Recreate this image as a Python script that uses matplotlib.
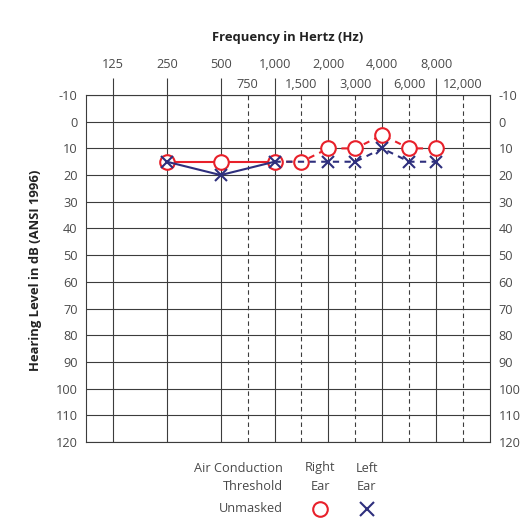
import matplotlib
matplotlib.use("Agg")
import matplotlib.pyplot as plt
from matplotlib.lines import Line2D

plt.rcParams['font.family'] = ['Open Sans', 'DejaVu Sans']

# Audiogram frequencies (Hz) and their evenly spaced chart positions
octave_freqs = ["125", "250", "500", "1,000", "2,000", "4,000", "8,000"]
octave_pos = [0, 1, 2, 3, 4, 5, 6]
mid_freqs = ["750", "1,500", "3,000", "6,000", "12,000"]
mid_pos = [2.5, 3.5, 4.5, 5.5, 6.5]
db_ticks = list(range(-10, 130, 10))

# Right ear (air conduction, unmasked): position index -> hearing level (dB)
right_pos = [1, 2, 3, 3.5, 4, 4.5, 5, 5.5, 6]
right_db = [15, 15, 15, 15, 10, 10, 5, 10, 10]
# Left ear
left_pos = [1, 2, 3, 4, 4.5, 5, 5.5, 6]
left_db = [15, 20, 15, 15, 15, 10, 15, 15]

RED = "#e8202a"
BLUE = "#2e2f7d"
GRID = "#3c3c3c"
TXT = "#4a4a4a"
FS = 9.2

fig = plt.figure(figsize=(5.26, 5.23), dpi=100)
ax = fig.add_axes([86 / 526, 1 - 442 / 523, 404 / 526, 347 / 523])

ax.set_xlim(-0.5, 7)
ax.set_ylim(120, -10)

# Grid: octaves solid, mid-octaves dashed, every 10 dB solid
for x in octave_pos:
    ax.axvline(x, color=GRID, lw=0.8, zorder=1)
for x in mid_pos:
    ax.axvline(x, color=GRID, lw=0.8, ls=(0, (4, 3)), zorder=1)
for y in db_ticks:
    ax.axhline(y, color=GRID, lw=0.8, zorder=1)
for s in ax.spines.values():
    s.set_color(GRID)
    s.set_linewidth(0.8)

# Top frequency axis: octaves on the upper row, mid-octaves below
ax.xaxis.set_ticks_position('top')
ax.xaxis.set_label_position('top')
ax.set_xticks(octave_pos, octave_freqs)
ax.set_xticks(mid_pos, mid_freqs, minor=True)
ax.tick_params(axis='x', which='major', direction='out', length=12.5, width=0.8,
               color=GRID, pad=4.5, labelsize=FS, labelcolor=TXT)
ax.tick_params(axis='x', which='minor', length=0, pad=3, labelsize=FS,
               labelcolor=TXT)

# Hearing level on both sides
ax.set_yticks(db_ticks, [str(v) for v in db_ticks])
ax.tick_params(axis='y', which='both', length=0, labelsize=FS, labelcolor=TXT,
               left=True, right=True, labelleft=True, labelright=True)
ax.tick_params(axis='y', pad=6)

# Thresholds: solid through 1 kHz, dashed above
def draw_ear(pos, db, color, marker, ms, fill, z):
    split = pos.index(3) + 1
    ax.plot(pos[:split], db[:split], color=color, lw=1.5, zorder=z)
    ax.plot(pos[split - 1:], db[split - 1:], color=color, lw=1.5,
            dashes=(3, 2.6), zorder=z)
    ax.plot(pos, db, ls='none', marker=marker, ms=ms, mew=1.5, mec=color,
            mfc=fill, zorder=z + 0.5)

draw_ear(right_pos, right_db, RED, 'o', 10.5, 'white', 3)
draw_ear(left_pos, left_db, BLUE, 'x', 8.5, BLUE, 4)

fig.text(288 / 526, 1 - 37 / 523, "Frequency in Hertz (Hz)", ha='center',
         va='center', fontsize=9.4, fontweight='bold', color="#222222")
fig.text(36 / 526, 1 - 270 / 523, "Hearing Level in dB (ANSI 1996)",
         rotation=90, ha='center', va='center', fontsize=9.4,
         fontweight='bold', color="#222222")

# Symbol key
kx_lab, kx_r, kx_l = 283 / 526, 320 / 526, 367 / 526
ky1, ky2, ky3 = 1 - 468 / 523, 1 - 486 / 523, 1 - 509 / 523
kw = dict(fontsize=FS, color=TXT, va='center')
fig.text(kx_lab, ky1, "Air Conduction", ha='right', **kw)
fig.text(kx_lab, ky2, "Threshold", ha='right', **kw)
fig.text(kx_lab, ky3, "Unmasked", ha='right', **kw)
fig.text(kx_r, ky1, "Right", ha='center', **kw)
fig.text(kx_r, ky2, "Ear", ha='center', **kw)
fig.text(kx_l, ky1, "Left", ha='center', **kw)
fig.text(kx_l, ky2, "Ear", ha='center', **kw)
fig.add_artist(Line2D([kx_r], [ky3], marker='o', ms=10.5, mew=1.5, mec=RED,
                      mfc='white', ls='none'))
fig.add_artist(Line2D([kx_l], [ky3], marker='x', ms=9.5, mew=1.5, mec=BLUE,
                      ls='none'))

fig.savefig("out.png", dpi=100)
